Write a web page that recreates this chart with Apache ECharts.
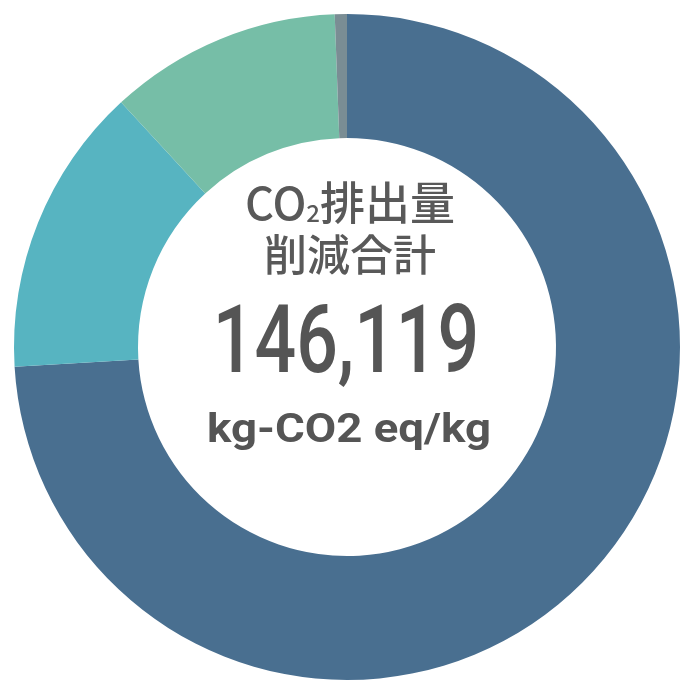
<!DOCTYPE html>
<html>
<head>
<meta charset="utf-8">
<script src="https://cdn.jsdelivr.net/npm/echarts@6/dist/echarts.min.js"></script>
<style>
html,body{margin:0;padding:0;background:#fff;}
#chart{width:682px;height:682px;}
</style>
</head>
<body>
<div id="chart"></div>
<script>
// Data
var categories = ['区分A', '区分B', '区分C', '区分D'];
var values = [108210, 20570, 16480, 859];
var colors = ['#496f90', '#57b4c1', '#76bea7', '#7a8d94'];
var totalLabel = '146,119';
var unitLabel = 'kg-CO2 eq/kg';

var chart = echarts.init(document.getElementById('chart'));
var data = categories.map(function (c, i) {
  return { name: c, value: values[i], itemStyle: { color: colors[i] } };
});

var cjk = "'Noto Sans CJK JP', 'Noto Sans', sans-serif";
var txtColor = '#595959';

chart.setOption({
  animation: false,
  backgroundColor: '#ffffff',
  series: [{
    type: 'pie',
    center: [347, 347],
    radius: [209, 333],
    startAngle: 90,
    clockwise: true,
    silent: true,
    label: { show: false },
    labelLine: { show: false },
    itemStyle: { borderWidth: 0 },
    data: data
  }],
  graphic: [
    {
      type: 'text', x: 350, y: 200,
      style: {
        text: '{a|CO}{s|2}{a|排出量}',
        align: 'center', verticalAlign: 'middle',
        rich: {
          a: { fontFamily: cjk, fontWeight: 500, fontSize: 45, fill: txtColor, verticalAlign: 'bottom', lineHeight: 50 },
          s: { fontFamily: cjk, fontWeight: 500, fontSize: 24, fill: txtColor, verticalAlign: 'bottom', lineHeight: 50 }
        }
      }
    },
    {
      type: 'text', x: 350, y: 255,
      style: {
        text: '削減合計', fontFamily: cjk, fontWeight: 500, fontSize: 43, fill: txtColor,
        align: 'center', verticalAlign: 'middle'
      }
    },
    {
      type: 'text', x: 346, y: 348, scaleX: 0.78,
      style: {
        text: totalLabel, fontFamily: 'Roboto', fontWeight: 500, fontSize: 94, fill: '#555555',
        align: 'center', verticalAlign: 'middle'
      }
    },
    {
      type: 'text', x: 349, y: 432, scaleX: 1.14,
      style: {
        text: unitLabel, fontFamily: 'Roboto', fontWeight: 'bold', fontSize: 40, fill: '#555555',
        align: 'center', verticalAlign: 'middle'
      }
    }
  ]
});
</script>
</body>
</html>
